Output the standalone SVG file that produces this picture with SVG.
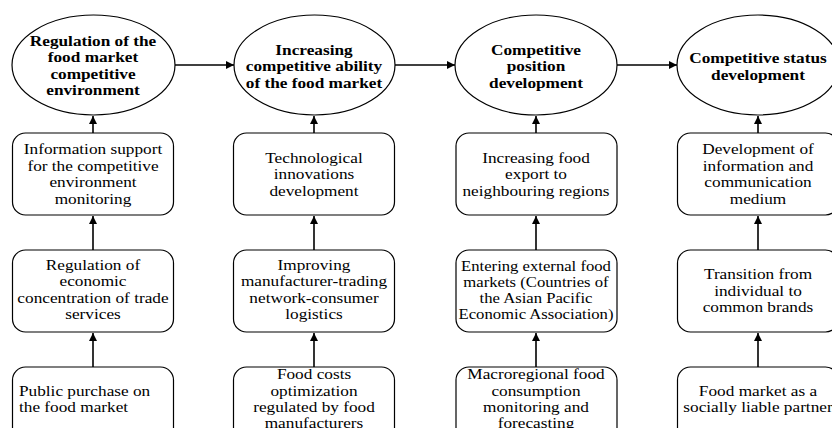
<svg xmlns="http://www.w3.org/2000/svg" width="832" height="428" viewBox="0 0 832 428">
<defs>
<style>
.e{fill:#fff;stroke:#000;stroke-width:1.2}
.b{fill:#fff;stroke:#000;stroke-width:1.2}
.c{stroke:#000;stroke-width:1.6;fill:none;marker-end:url(#ah)}
text{font-family:'Liberation Serif','Times New Roman',serif;font-size:15px;fill:#000;text-anchor:middle}
.t{font-weight:bold}
.l{text-anchor:start}
.s{font-size:14.5px}
</style>
<marker id="ah" viewBox="0 0 10 10" refX="10" refY="5" markerWidth="5" markerHeight="5" orient="auto" markerUnits="strokeWidth">
<path d="M0,0 L10,5 L0,10 z" fill="#000"/>
</marker>
</defs>
<rect width="832" height="428" fill="#fff"/>
<g id="connectors">
<line class="c" x1="175" y1="65" x2="234" y2="65"/>
<line class="c" x1="395" y1="65" x2="455" y2="65"/>
<line class="c" x1="617" y1="65" x2="677" y2="65"/>
<line class="c" x1="93" y1="133" x2="93" y2="116"/>
<line class="c" x1="314" y1="133" x2="314" y2="116"/>
<line class="c" x1="536" y1="133" x2="536" y2="116"/>
<line class="c" x1="758" y1="133" x2="758" y2="116"/>
<line class="c" x1="93" y1="250" x2="93" y2="216"/>
<line class="c" x1="314" y1="250" x2="314" y2="216"/>
<line class="c" x1="536" y1="250" x2="536" y2="216"/>
<line class="c" x1="758" y1="250" x2="758" y2="216"/>
<line class="c" x1="93" y1="367" x2="93" y2="333"/>
<line class="c" x1="314" y1="367" x2="314" y2="333"/>
<line class="c" x1="536" y1="367" x2="536" y2="333"/>
<line class="c" x1="758" y1="367" x2="758" y2="333"/>
</g>
<g id="e1"><ellipse class="e" cx="93.5" cy="65" rx="81.5" ry="50"/>
<g transform="translate(93 0) scale(1.15 1)"><text class="t" x="0" y="46">Regulation of the</text><text class="t" x="0" y="62.5">food market</text><text class="t" x="0" y="79">competitive</text><text class="t" x="0" y="95.5">environment</text></g></g>
<g id="e2"><ellipse class="e" cx="314.5" cy="65" rx="80.5" ry="50"/>
<g transform="translate(314 0) scale(1.15 1)"><text class="t" x="0" y="55">Increasing</text><text class="t" x="0" y="71.5">competitive ability</text><text class="t" x="0" y="88">of the food market</text></g></g>
<g id="e3"><ellipse class="e" cx="536" cy="65" rx="81" ry="50"/>
<g transform="translate(536 0) scale(1.15 1)"><text class="t" x="0" y="55">Competitive</text><text class="t" x="0" y="71.5">position</text><text class="t" x="0" y="88">development</text></g></g>
<g id="e4"><ellipse class="e" cx="758" cy="65" rx="81" ry="50"/>
<g transform="translate(758 0) scale(1.15 1)"><text class="t" x="0" y="63.5">Competitive status</text><text class="t" x="0" y="80">development</text></g></g>

<g id="a1"><rect class="b" x="12.5" y="133" width="161" height="82" rx="13"/>
<g transform="translate(93 0) scale(1.15 1)"><text x="0" y="154.5">Information support</text><text x="0" y="171">for the competitive</text><text x="0" y="187.5">environment</text><text x="0" y="204">monitoring</text></g></g>
<g id="a2"><rect class="b" x="233.5" y="133" width="161" height="82" rx="13"/>
<g transform="translate(314 0) scale(1.15 1)"><text x="0" y="163">Technological</text><text x="0" y="179.5">innovations</text><text x="0" y="196">development</text></g></g>
<g id="a3"><rect class="b" x="456" y="133" width="161" height="82" rx="13"/>
<g transform="translate(536 0) scale(1.15 1)"><text x="0" y="163">Increasing food</text><text x="0" y="179.5">export to</text><text x="0" y="196">neighbouring regions</text></g></g>
<g id="a4"><rect class="b" x="677.5" y="133" width="161" height="82" rx="13"/>
<g transform="translate(758 0) scale(1.15 1)"><text x="0" y="154.5">Development of</text><text x="0" y="171">information and</text><text x="0" y="187.5">communication</text><text x="0" y="204">medium</text></g></g>

<g id="b1"><rect class="b" x="12.5" y="250" width="161" height="82" rx="13"/>
<g transform="translate(93 0) scale(1.15 1)"><text x="0" y="270">Regulation of</text><text x="0" y="286.5">economic</text><text x="0" y="303">concentration of trade</text><text x="0" y="319.5">services</text></g></g>
<g id="b2"><rect class="b" x="233.5" y="250" width="161" height="82" rx="13"/>
<g transform="translate(314 0) scale(1.15 1)"><text x="0" y="270">Improving</text><text x="0" y="286.5">manufacturer-trading</text><text x="0" y="303">network-consumer</text><text x="0" y="319.5">logistics</text></g></g>
<g id="b3"><rect class="b" x="456" y="250" width="161" height="82" rx="13"/>
<g transform="translate(536 0) scale(1.15 1)"><text class="s" x="0" y="271">Entering external food</text><text class="s" x="0" y="287">markets (Countries of</text><text class="s" x="0" y="303">the Asian Pacific</text><text class="s" x="0" y="319">Economic Association)</text></g></g>
<g id="b4"><rect class="b" x="677.5" y="250" width="161" height="82" rx="13"/>
<g transform="translate(758 0) scale(1.15 1)"><text x="0" y="279.5">Transition from</text><text x="0" y="296">individual to</text><text x="0" y="312.5">common brands</text></g></g>

<g id="c1"><rect class="b" x="12.5" y="367" width="161" height="82" rx="13"/>
<g transform="translate(19 0) scale(1.15 1)"><text class="l" x="0" y="396">Public purchase on</text><text class="l" x="0" y="412.5">the food market</text></g></g>
<g id="c2"><rect class="b" x="233.5" y="367" width="161" height="82" rx="13"/>
<g transform="translate(314 0) scale(1.15 1)"><text x="0" y="379.5">Food costs</text><text x="0" y="396">optimization</text><text x="0" y="412.5">regulated by food</text><text x="0" y="428">manufacturers</text></g></g>
<g id="c3"><rect class="b" x="456" y="367" width="161" height="82" rx="13"/>
<g transform="translate(536 0) scale(1.15 1)"><text x="0" y="379.5">Macroregional food</text><text x="0" y="396">consumption</text><text x="0" y="412.5">monitoring and</text><text x="0" y="428">forecasting</text></g></g>
<g id="c4"><rect class="b" x="677.5" y="367" width="161" height="82" rx="13"/>
<g transform="translate(758 0) scale(1.15 1)"><text x="0" y="396">Food market as a</text><text x="0" y="412.5">socially liable partner</text></g></g>
</svg>
